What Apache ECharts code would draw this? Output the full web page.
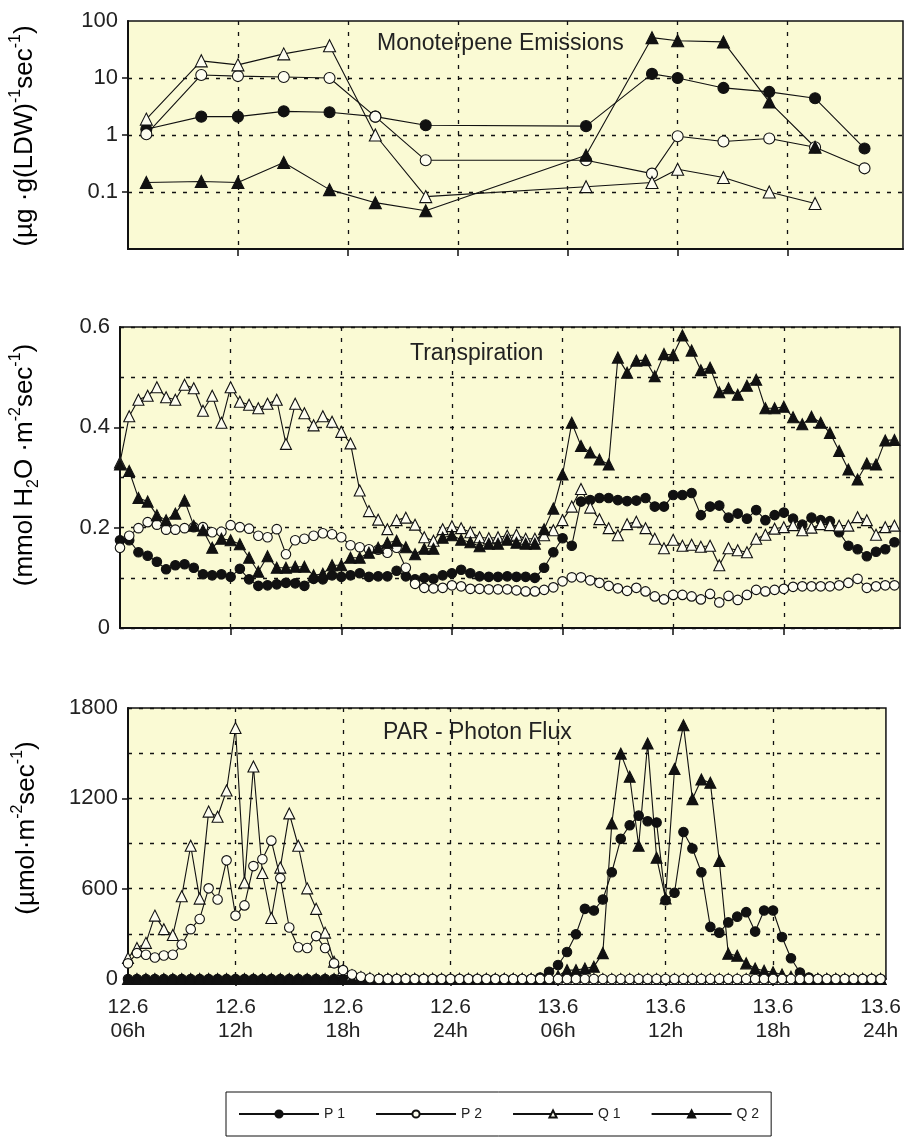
<!DOCTYPE html>
<html>
<head>
<meta charset="utf-8">
<title>Monoterpene emissions, transpiration and PAR</title>
<script src="https://cdn.jsdelivr.net/npm/echarts@6/dist/echarts.min.js"></script>
<style>
  html, body { margin: 0; padding: 0; background: #ffffff; }
  #chart { width: 904px; height: 1138px; }
</style>
</head>
<body>
<div id="chart"></div>
<script>
// ---- time base: hours counted from 00h on 12.6 ----
const labelHours = [6, 12, 18, 24, 30, 36, 42, 48];
const dayLabels = ['12.6', '12.6', '12.6', '12.6', '13.6', '13.6', '13.6', '13.6'];
const hourLabels = ['06h', '12h', '18h', '24h', '06h', '12h', '18h', '24h'];
const gridHours = [12, 18, 24, 30, 36, 42];
// half-hourly sampling from 06h on 12.6 to 24h on 13.6 (85 readings)
const halfHours = Array.from({ length: 85 }, (_, i) => 6 + i * 0.5);

// ---- monoterpene emissions, µg g(LDW)^-1 s^-1 (log scale) ----
const monoHours = [7, 10, 12, 14.5, 17, 19.5, 22.25, 31, 34.6, 36, 38.5, 41, 43.5, 46.2];
const monoP1 = [1.26, 2.1, 2.1, 2.6, 2.5, 2.1, 1.48, 1.43, 11.8, 10, 6.7, 5.7, 4.4, 0.58];
const monoP2 = [1.03, 11.3, 10.8, 10.4, 10, 2.1, 0.36, 0.36, 0.21, 0.95, 0.77, 0.87, 0.61, 0.26];
const monoQ1 = [1.9, 20, 17, 26.5, 36.7, 1.0, 0.083, 0.124, 0.147, 0.25, 0.18, 0.10, 0.063, null];
const monoQ2 = [0.147, 0.153, 0.147, 0.33, 0.11, 0.065, 0.047, 0.44, 51, 45, 43, 3.8, 0.61, null];
const monoTicks = [0.1, 1, 10];

// ---- transpiration, mmol H2O m^-2 s^-1 ----
const transP1 = [
  0.175, 0.175, 0.151, 0.144, 0.132, 0.117, 0.125, 0.127, 0.120, 0.107,
  0.105, 0.107, 0.102, 0.118, 0.097, 0.084, 0.085, 0.087, 0.090, 0.089,
  0.084, 0.098, 0.097, 0.105, 0.102, 0.105, 0.109, 0.102, 0.103, 0.103,
  0.114, 0.103, 0.097, 0.100, 0.098, 0.105, 0.109, 0.116, 0.109, 0.103,
  0.102, 0.102, 0.103, 0.102, 0.102, 0.100, 0.120, 0.151, 0.179, 0.164,
  0.252, 0.255, 0.259, 0.259, 0.255, 0.253, 0.254, 0.259, 0.242, 0.242,
  0.265, 0.265, 0.269, 0.225, 0.242, 0.244, 0.220, 0.228, 0.218, 0.235,
  0.215, 0.225, 0.230, 0.218, 0.206, 0.220, 0.215, 0.213, 0.191, 0.164,
  0.157, 0.143, 0.152, 0.157, 0.171
];
const transP2 = [
  0.160, 0.184, 0.199, 0.211, 0.206, 0.196, 0.196, 0.199, 0.201, 0.201,
  0.191, 0.192, 0.205, 0.201, 0.198, 0.184, 0.181, 0.197, 0.147, 0.175,
  0.178, 0.184, 0.189, 0.187, 0.181, 0.165, 0.161, 0.157, 0.156, 0.150,
  0.160, 0.120, 0.088, 0.080, 0.079, 0.080, 0.085, 0.083, 0.078, 0.078,
  0.077, 0.077, 0.077, 0.075, 0.073, 0.073, 0.076, 0.081, 0.093, 0.101,
  0.101, 0.095, 0.090, 0.084, 0.079, 0.074, 0.080, 0.073, 0.063, 0.057,
  0.066, 0.066, 0.063, 0.057, 0.068, 0.051, 0.064, 0.056, 0.066, 0.076,
  0.073, 0.076, 0.078, 0.082, 0.083, 0.083, 0.083, 0.083, 0.085, 0.090,
  0.098, 0.080, 0.083, 0.085, 0.085
];
const transQ1 = [
  0.330, 0.422, 0.455, 0.463, 0.480, 0.460, 0.455, 0.485, 0.478, 0.433,
  0.463, 0.409, 0.480, 0.451, 0.445, 0.438, 0.447, 0.455, 0.367, 0.447,
  0.428, 0.404, 0.422, 0.411, 0.391, 0.368, 0.274, 0.233, 0.216, 0.197,
  0.215, 0.220, 0.206, 0.181, 0.174, 0.197, 0.203, 0.199, 0.191, 0.181,
  0.179, 0.181, 0.184, 0.186, 0.178, 0.178, 0.185, 0.195, 0.215, 0.242,
  0.277, 0.240, 0.217, 0.199, 0.185, 0.207, 0.212, 0.199, 0.178, 0.159,
  0.176, 0.164, 0.166, 0.162, 0.164, 0.125, 0.159, 0.155, 0.151, 0.178,
  0.186, 0.198, 0.201, 0.205, 0.195, 0.200, 0.207, 0.205, 0.204, 0.204,
  0.221, 0.215, 0.186, 0.201, 0.204
];
const transQ2 = [
  0.326, 0.313, 0.259, 0.252, 0.225, 0.215, 0.228, 0.254, 0.204, 0.195,
  0.160, 0.178, 0.175, 0.167, 0.140, 0.112, 0.143, 0.120, 0.120, 0.122,
  0.122, 0.105, 0.108, 0.125, 0.125, 0.140, 0.140, 0.150, 0.160, 0.170,
  0.174, 0.161, 0.147, 0.158, 0.158, 0.180, 0.185, 0.176, 0.171, 0.163,
  0.168, 0.168, 0.176, 0.170, 0.168, 0.168, 0.197, 0.238, 0.306, 0.409,
  0.363, 0.350, 0.336, 0.326, 0.539, 0.509, 0.533, 0.534, 0.502, 0.546,
  0.544, 0.583, 0.553, 0.514, 0.519, 0.470, 0.478, 0.465, 0.483, 0.495,
  0.438, 0.438, 0.441, 0.420, 0.406, 0.421, 0.409, 0.389, 0.353, 0.316,
  0.296, 0.328, 0.326, 0.374, 0.375
];
const transLabels = [0, 0.2, 0.4, 0.6];
const transTicks = [0.2, 0.4];

// ---- PAR photon flux, µmol m^-2 s^-1 ----
const parP1 = [
  0, 0, 0, 0, 0, 0, 0, 0, 0, 0,
  0, 0, 0, 0, 0, 0, 0, 0, 0, 0,
  0, 0, 0, 0, 0, 0, 0, 0, 0, 0,
  0, 0, 0, 0, 0, 0, 0, 0, 0, 0,
  0, 0, 0, 0, 0, 0, 10, 48, 93, 179,
  297, 466, 455, 528, 709, 931, 1021, 1085, 1048, 1039,
  523, 573, 976, 867, 709, 346, 308, 376, 414, 444,
  315, 455, 455, 279, 138, 43, 10, 0, 0, 0,
  0, 0, 0, 0, 0
];
const parP2 = [
  104, 172, 161, 143, 156, 161, 229, 331, 399, 602,
  528, 788, 421, 489, 750, 795, 919, 670, 342, 211,
  206, 285, 206, 104, 59, 30, 15, 5, 0, 0,
  0, 0, 0, 0, 0, 0, 0, 0, 0, 0,
  0, 0, 0, 0, 0, 0, 0, 0, 0, 0,
  0, 0, 0, 0, 0, 0, 0, 0, 0, 0,
  0, 0, 0, 0, 0, 0, 0, 0, 0, 0,
  0, 0, 0, 0, 0, 0, 0, 0, 0, 0,
  0, 0, 0, 0, 0
];
const parQ1 = [
  140, 206, 240, 421, 331, 292, 550, 885, 534, 1112,
  1078, 1252, 1667, 641, 1411, 704, 405, 740, 1100, 885,
  602, 466, 308, 115, 59, 25, 14, 5, 0, 0,
  0, 0, 0, 0, 0, 0, 0, 0, 0, 0,
  0, 0, 0, 0, 0, 0, 0, 0, 0, 0,
  0, 0, 0, 0, 0, 0, 0, 0, 0, 0,
  0, 0, 0, 0, 0, 0, 0, 0, 0, 0,
  0, 0, 0, 0, 0, 0, 0, 0, 0, 0,
  0, 0, 0, 0, 0
];
const parQ2 = [
  0, 0, 0, 0, 0, 0, 0, 0, 0, 0,
  0, 0, 0, 0, 0, 0, 0, 0, 0, 0,
  0, 0, 0, 0, 0, 0, 0, 0, 0, 0,
  0, 0, 0, 0, 0, 0, 0, 0, 0, 0,
  0, 0, 0, 0, 0, 0, 0, 5, 20, 59,
  59, 70, 82, 172, 1033, 1497, 1343, 885, 1565, 806,
  535, 1395, 1685, 1195, 1325, 1304, 784, 168, 155, 104,
  70, 55, 45, 30, 15, 5, 0, 0, 0, 0,
  0, 0, 0, 0, 0
];
const parLabels = [0, 600, 1200, 1800];
const parTicks = [600, 1200];

// ---- styling ----
const FONT = "'Liberation Sans', Arial, Helvetica, sans-serif";
const INK = '#111111';
const TEXT = '#222222';
const PAPER = '#fafad4';
const HOLLOW = '#fdfdf0';

const markers = {
  'P 1': { symbol: 'circle', fill: INK },
  'P 2': { symbol: 'circle', fill: HOLLOW },
  'Q 1': { symbol: 'triangle', fill: HOLLOW },
  'Q 2': { symbol: 'triangle', fill: INK }
};

function pairs(xs, ys) {
  const out = [];
  xs.forEach((x, i) => { if (ys[i] !== null && ys[i] !== undefined) out.push([x, ys[i]]); });
  return out;
}

function lineSeries(name, xs, ys, panel, circleSize, triSize, z) {
  const m = markers[name];
  return {
    type: 'line',
    name: name,
    xAxisIndex: panel,
    yAxisIndex: panel,
    data: pairs(xs, ys),
    symbol: m.symbol,
    symbolSize: m.symbol === 'circle' ? circleSize : triSize,
    showAllSymbol: true,
    clip: false,
    z: z || 2,
    lineStyle: { color: INK, width: 1.1 },
    itemStyle: { color: m.fill, borderColor: INK, borderWidth: 1.1 },
    emphasis: { disabled: true }
  };
}

const dashed = { color: INK, type: [4, 7], width: 1.3 };

function timeAxis(panel, withLabels) {
  return {
    type: 'value',
    gridIndex: panel,
    min: 6,
    max: 48.3,
    interval: 6,
    axisLine: { show: true, lineStyle: { color: INK, width: 2 } },
    axisTick: { show: true, customValues: gridHours, length: 7, inside: false, lineStyle: { color: INK, width: 1.5 } },
    splitLine: { show: true, lineStyle: dashed },
    axisLabel: withLabels ? {
      show: true,
      customValues: labelHours,
      margin: 16,
      fontFamily: FONT,
      fontSize: 21,
      lineHeight: 24,
      color: TEXT,
      formatter: function (v) {
        const i = labelHours.indexOf(Math.round(v));
        return i < 0 ? '' : dayLabels[i] + '\n' + hourLabels[i];
      }
    } : { show: false }
  };
}

const yLabel = { fontFamily: FONT, fontSize: 22, color: TEXT, margin: 10 };

const grids = [
  { left: 128, top: 21, width: 775, height: 228 },
  { left: 120, top: 327, width: 780, height: 301 },
  { left: 128, top: 708, width: 770, height: 271 }
].map(g => Object.assign(g, { show: true, backgroundColor: PAPER, borderColor: INK, borderWidth: 1.5, containLabel: false }));

function tickAxis(panel, min, max, ticks) {
  return {
    type: 'value', gridIndex: panel, min: min, max: max, position: 'left',
    axisLine: { show: false }, splitLine: { show: false }, axisLabel: { show: false },
    axisTick: { show: true, customValues: ticks, length: 6, lineStyle: { color: INK, width: 1.5 } }
  };
}

const yAxes = [
  {
    type: 'log', gridIndex: 0, logBase: 10, min: 0.01, max: 100,
    axisLine: { show: true, lineStyle: { color: INK, width: 2 } },
    axisTick: { show: true, customValues: monoTicks, length: 6, lineStyle: { color: INK, width: 1.5 } },
    splitLine: { show: true, lineStyle: dashed },
    axisLabel: Object.assign({}, yLabel, {
      formatter: function (v) {
        const p = Math.round(Math.log10(v));
        if (p <= -2) return '';
        return p < 0 ? Math.pow(10, p).toFixed(-p) : String(Math.pow(10, p));
      }
    })
  },
  {
    type: 'value', gridIndex: 1, min: 0, max: 0.6, interval: 0.1,
    axisLine: { show: true, lineStyle: { color: INK, width: 2 } },
    axisTick: { show: false },
    splitLine: { show: true, lineStyle: dashed },
    axisLabel: Object.assign({}, yLabel, {
      customValues: transLabels,
      formatter: v => (v === 0 ? '0' : v.toFixed(1))
    })
  },
  {
    type: 'value', gridIndex: 2, min: 0, max: 1800, interval: 300,
    axisLine: { show: true, lineStyle: { color: INK, width: 2 } },
    axisTick: { show: false },
    splitLine: { show: true, lineStyle: dashed },
    axisLabel: Object.assign({}, yLabel, {
      customValues: parLabels,
      formatter: v => String(Math.round(v))
    })
  },
  tickAxis(1, 0, 0.6, transTicks),
  tickAxis(2, 0, 1800, parTicks)
];

const series = [
  lineSeries('P 1', monoHours, monoP1, 0, 11, 12),
  lineSeries('P 2', monoHours, monoP2, 0, 11, 12),
  lineSeries('Q 1', monoHours, monoQ1, 0, 11, 12),
  lineSeries('Q 2', monoHours, monoQ2, 0, 11, 12),

  lineSeries('P 1', halfHours, transP1, 1, 9.5, 11),
  lineSeries('P 2', halfHours, transP2, 1, 9.5, 11),
  lineSeries('Q 1', halfHours, transQ1, 1, 9.5, 11),
  lineSeries('Q 2', halfHours, transQ2, 1, 9.5, 11),

  lineSeries('P 1', halfHours, parP1, 2, 9.5, 11),
  lineSeries('Q 1', halfHours, parQ1, 2, 9.5, 11),
  lineSeries('Q 2', halfHours, parQ2, 2, 9.5, 11),
  lineSeries('P 2', halfHours, parP2, 2, 9.5, 11, 3)
];

const unitRich = {
  n: { fontFamily: FONT, fontSize: 26, lineHeight: 34, color: TEXT },
  sup: { fontFamily: FONT, fontSize: 16, lineHeight: 16, color: TEXT, verticalAlign: 'top' },
  sub: { fontFamily: FONT, fontSize: 16, lineHeight: 16, color: TEXT, verticalAlign: 'bottom' }
};

function unitTitle(x, y, text) {
  return {
    type: 'text', x: x, y: y, rotation: Math.PI / 2, silent: true,
    style: { text: text, rich: unitRich, align: 'center', verticalAlign: 'middle' }
  };
}

function panelTitle(x, y, text) {
  return {
    type: 'text', x: x, y: y, silent: true, z: 10,
    style: { text: text, fontFamily: FONT, fontSize: 23, fill: TEXT, align: 'left', verticalAlign: 'middle' }
  };
}

const chart = echarts.init(document.getElementById('chart'), null, { renderer: 'canvas' });
chart.setOption({
  animation: false,
  backgroundColor: '#ffffff',
  grid: grids,
  xAxis: [timeAxis(0, false), timeAxis(1, false), timeAxis(2, true)],
  yAxis: yAxes,
  series: series,
  legend: {
    data: ['P 1', 'P 2', 'Q 1', 'Q 2'],
    left: 226,
    top: 1092,
    orient: 'horizontal',
    itemWidth: 80,
    itemHeight: 9,
    itemGap: 30,
    padding: [15, 12, 15, 12],
    borderColor: INK,
    borderWidth: 1,
    selectedMode: false,
    textStyle: { fontFamily: FONT, fontSize: 14, color: TEXT }
  },
  graphic: [
    panelTitle(377, 44, 'Monoterpene Emissions'),
    panelTitle(410, 354, 'Transpiration'),
    panelTitle(383, 733, 'PAR - Photon Flux'),
    unitTitle(25, 136, '{n|(µg ·g(LDW)}{sup|-1}{n|sec}{sup|-1}{n|)}'),
    unitTitle(25, 465, '{n|(mmol H}{sub|2}{n|O ·m}{sup|-2}{n|sec}{sup|-1}{n|)}'),
    unitTitle(27, 828, '{n|(µmol·m}{sup|-2}{n|sec}{sup|-1}{n|)}')
  ]
});
</script>
</body>
</html>
